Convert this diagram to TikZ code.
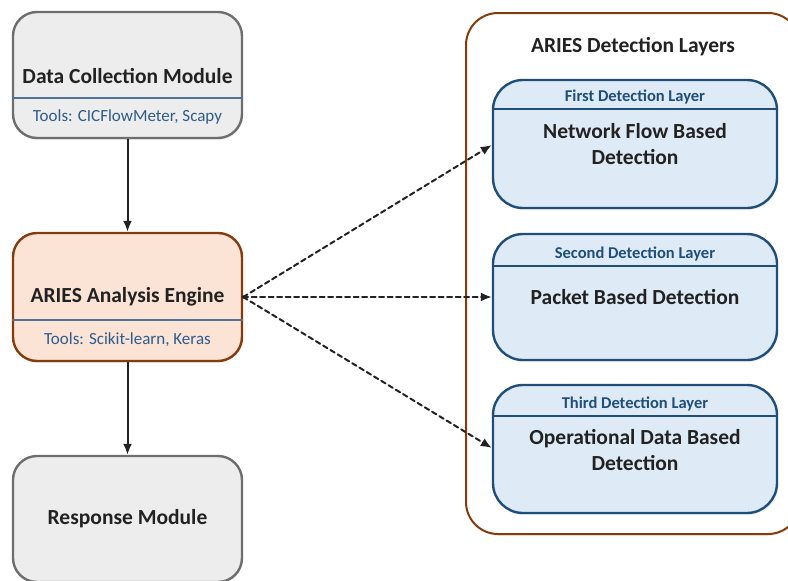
\documentclass[tikz,border=0pt]{standalone}
\usepackage{fontspec}
\setmainfont{Carlito}
\usetikzlibrary{arrows.meta,shadows}
\definecolor{grayfill}{HTML}{EDEDED}
\definecolor{grayline}{HTML}{6E6E6E}
\definecolor{orfill}{HTML}{FBE3D5}
\definecolor{orline}{HTML}{843C0C}
\definecolor{bluefill}{HTML}{DEEBF7}
\definecolor{blueline}{HTML}{1F4E79}
\definecolor{divline}{HTML}{4F7398}
\definecolor{tooltext}{HTML}{2E5C8A}
\definecolor{darktext}{HTML}{222222}
\begin{document}
\begin{tikzpicture}[x=1pt,y=-1pt,
  shade/.style={drop shadow={opacity=0.12,shadow xshift=1pt,shadow yshift=-2pt}},
  graybox/.style={draw=grayline,fill=grayfill,line width=2.4pt,rounded corners=24pt,minimum width=229pt,inner sep=0pt,shade},
  orbox/.style={draw=orline,fill=orfill,line width=2.4pt,rounded corners=24pt,minimum width=229pt,inner sep=0pt,shade},
  bluebox/.style={draw=blueline,fill=bluefill,line width=2.4pt,rounded corners=30pt,minimum width=284pt,inner sep=0pt,shade},
  container/.style={draw=orline,line width=2pt,rounded corners=32pt,minimum width=334pt,minimum height=521pt,inner sep=0pt,fill=white,shade},
  title/.style={font=\bfseries\fontsize{21.5}{26}\selectfont,text=darktext,align=center},
  tools/.style={font=\fontsize{17}{20}\selectfont,text=tooltext},
  layerhead/.style={font=\bfseries\fontsize{16.5}{19}\selectfont,text=blueline},
  divider/.style={line width=1.3pt},
  solidarrow/.style={line width=2pt,draw=darktext,-{Latex[length=11pt,width=9pt]}},
  dasharrow/.style={line width=2pt,draw=darktext,dash pattern=on 5pt off 3.5pt,line cap=round,-{Latex[length=11pt,width=9pt]}}
]
\useasboundingbox (0,0) rectangle (788,581);
\clip (0,0) rectangle (788,581);

% left column
\node[graybox,minimum height=126pt] (dc) at (127.5,75) {};
\node[orbox,minimum height=128pt] (ae) at (127.5,297) {};
\node[graybox,minimum height=126pt] (rm) at (127.5,519) {};

\draw[divider,draw=divline] (dc.west |- 0,98) -- (dc.east |- 0,98);
\draw[divider,draw=divline] (ae.west |- 0,320) -- (ae.east |- 0,320);

\node[title] (dct) at (127.5,76) {Data Collection Module};
\node[tools] (dctools) at (127.5,117) {Tools: CICFlowMeter, Scapy};
\node[title] (aet) at (127.5,297) {ARIES Analysis Engine};
\node[tools] (aetools) at (127.5,340) {Tools: Scikit-learn, Keras};
\node[title] (rmt) at (127.5,519) {Response Module};

% container
\node[container] (ct) at (633,273.5) {};
\node[title] (ctt) at (633,47) {ARIES Detection Layers};

\node[bluebox,minimum height=128pt] (l1) at (635,144) {};
\node[bluebox,minimum height=126pt] (l2) at (635,297) {};
\node[bluebox,minimum height=128pt] (l3) at (635,449) {};

\draw[divider,draw=blueline] (l1.west |- 0,109) -- (l1.east |- 0,109);
\draw[divider,draw=blueline] (l2.west |- 0,266) -- (l2.east |- 0,266);
\draw[divider,draw=blueline] (l3.west |- 0,416) -- (l3.east |- 0,416);

\node[layerhead] (l1h) at (635,97) {First Detection Layer};
\node[title] (l1t) at (635,144) {Network Flow Based\\Detection};
\node[layerhead] (l2h) at (635,254) {Second Detection Layer};
\node[title] (l2t) at (635,297) {Packet Based Detection};
\node[layerhead] (l3h) at (635,404) {Third Detection Layer};
\node[title] (l3t) at (635,450) {Operational Data Based\\Detection};

% connectors
\draw[solidarrow] (dc.south) -- (ae.north);
\draw[solidarrow] (ae.south) -- (rm.north);
\coordinate (t1) at (l1.west |- 0,145);
\coordinate (t3) at (l3.west |- 0,448);
\fill[darktext] (ae.east) circle (1.8pt);
\draw[dasharrow] (ae.east) -- (t1);
\draw[dasharrow] (ae.east) -- (l2.west);
\draw[dasharrow] (ae.east) -- (t3);
\end{tikzpicture}
\end{document}
